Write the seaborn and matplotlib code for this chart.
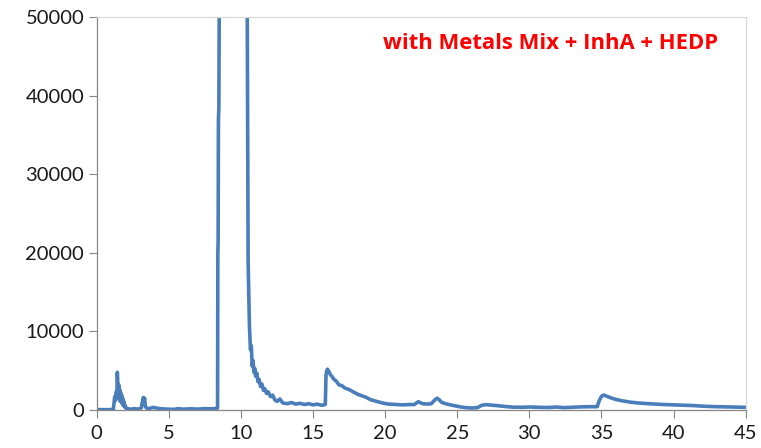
import matplotlib
matplotlib.use("Agg")
import matplotlib.pyplot as plt
import seaborn as sns
import pandas as pd

time_min = [
    0.0, 0.6, 1.15, 1.2, 1.25, 1.3, 1.35, 1.4, 1.43, 1.46,
    1.5, 1.53, 1.56, 1.6, 1.63, 1.66, 1.7, 1.73, 1.76, 1.8,
    1.84, 1.88, 1.92, 1.97, 2.05, 2.2, 2.4, 2.6, 2.8, 3.0,
    3.1, 3.15, 3.2, 3.24, 3.28, 3.32, 3.36, 3.4, 3.5, 3.6,
    3.75, 3.9, 4.0, 4.15, 4.35, 4.6, 5.0, 5.4, 5.6, 6.0,
    6.5, 7.0, 7.5, 8.0, 8.3, 8.38, 8.40, 8.42, 8.44, 8.47,
    8.56, 9.5, 10.42, 10.50, 10.59, 10.66, 10.72, 10.78, 10.84, 10.9,
    10.96, 11.02, 11.1, 11.18, 11.26, 11.36, 11.46, 11.56, 11.66, 11.78,
    11.9, 12.05, 12.2, 12.35, 12.5, 12.7, 12.9, 13.2, 13.5, 13.8,
    14.1, 14.4, 14.7, 15.0, 15.3, 15.6, 15.85, 15.9, 15.95, 16.0,
    16.1, 16.2, 16.3, 16.45, 16.6, 16.8, 17.0, 17.2, 17.5, 17.8,
    18.1, 18.4, 18.7, 19.0, 19.4, 19.8, 20.2, 20.7, 21.2, 21.7,
    22.0, 22.3, 22.6, 22.9, 23.2, 23.45, 23.6, 23.75, 23.9, 24.1,
    24.4, 24.8, 25.2, 25.6, 26.0, 26.4, 26.7, 27.0, 27.4, 27.8,
    28.3, 28.9, 29.5, 30.1, 30.7, 31.3, 31.9, 32.4, 33.0, 33.6,
    34.2, 34.7, 34.85, 35.0, 35.15, 35.3, 35.5, 35.8, 36.1, 36.5,
    37.0, 37.5, 38.1, 38.7, 39.3, 40.0, 40.7, 41.4, 42.1, 42.8,
    43.5, 44.2, 45.0,
]
intensity = [
    50, 40, 60, 900, 1700, 1200, 2300, 2100, 4800, 3600,
    2000, 3200, 1400, 2600, 1100, 2200, 1300, 1900, 800, 1500,
    600, 1100, 400, 600, 200, 150, 100, 180, 120, 150,
    300, 900, 1300, 1600, 1100, 1500, 700, 350, 200, 150,
    250, 330, 300, 250, 180, 140, 100, 80, 170, 110,
    150, 120, 170, 150, 200, 250, 20000, 21500, 37000, 38500,
    80000, 400000, 60000, 18800, 10700, 7700, 8200, 5600, 6300, 4800,
    5300, 4300, 4700, 3600, 3900, 3000, 3300, 2500, 2700, 2100,
    2300, 1700, 1900, 1300, 1100, 1400, 900, 800, 950, 750,
    850, 700, 800, 650, 750, 600, 700, 4400, 5000, 5200,
    4900, 4500, 4300, 3900, 3700, 3200, 3100, 2800, 2600, 2300,
    2000, 1800, 1600, 1300, 1100, 900, 760, 700, 650, 700,
    680, 1050, 800, 760, 800, 1300, 1500, 1300, 1000, 850,
    700, 550, 400, 300, 250, 300, 600, 680, 620, 550,
    450, 360, 350, 380, 340, 320, 380, 300, 350, 400,
    420, 420, 1200, 1750, 1900, 1800, 1650, 1450, 1300, 1150,
    1000, 900, 820, 760, 700, 650, 600, 560, 480, 430,
    400, 380, 340,
]
x_ticks = [0, 5, 10, 15, 20, 25, 30, 35, 40, 45]
y_ticks = [0, 10000, 20000, 30000, 40000, 50000]
title_text = "with Metals Mix + InhA + HEDP"

sns.set_style("ticks")
plt.rcParams["font.family"] = ["Lato", "DejaVu Sans"]

df = pd.DataFrame({"time": time_min, "intensity": intensity})

fig = plt.figure(figsize=(7.61, 4.48), dpi=100)
ax = fig.add_axes([96.7 / 761, 1 - 410 / 448, (745.7 - 96.7) / 761, (410 - 17.3) / 448])

sns.lineplot(data=df, x="time", y="intensity", ax=ax, color="#4A7EBB",
             linewidth=2.6, estimator=None, sort=False)

ax.set_xlim(0, 45)
ax.set_ylim(0, 50000)
ax.set_xticks(x_ticks)
ax.set_yticks(y_ticks)
ax.set_xticklabels([str(v) for v in x_ticks])
ax.set_yticklabels([str(v) for v in y_ticks])
ax.set_xlabel("")
ax.set_ylabel("")

for side in ["left", "bottom"]:
    ax.spines[side].set_color("#868686")
    ax.spines[side].set_linewidth(0.9)
for side in ["top", "right"]:
    ax.spines[side].set_visible(True)
    ax.spines[side].set_color("#D9D9D9")
    ax.spines[side].set_linewidth(0.9)

ax.tick_params(axis="both", which="major", length=5.5, width=0.8, color="#868686",
               labelsize=14.5, labelcolor="#1a1a1a", direction="out")
ax.tick_params(axis="y", pad=3.5)
ax.tick_params(axis="x", pad=5.5)

ax.text(0.699, 0.934, title_text, transform=ax.transAxes, ha="center", va="center",
        color="#FF0000", fontsize=15.8, fontweight="bold", family=["Open Sans", "DejaVu Sans"])

fig.savefig("out.png", dpi=100)
